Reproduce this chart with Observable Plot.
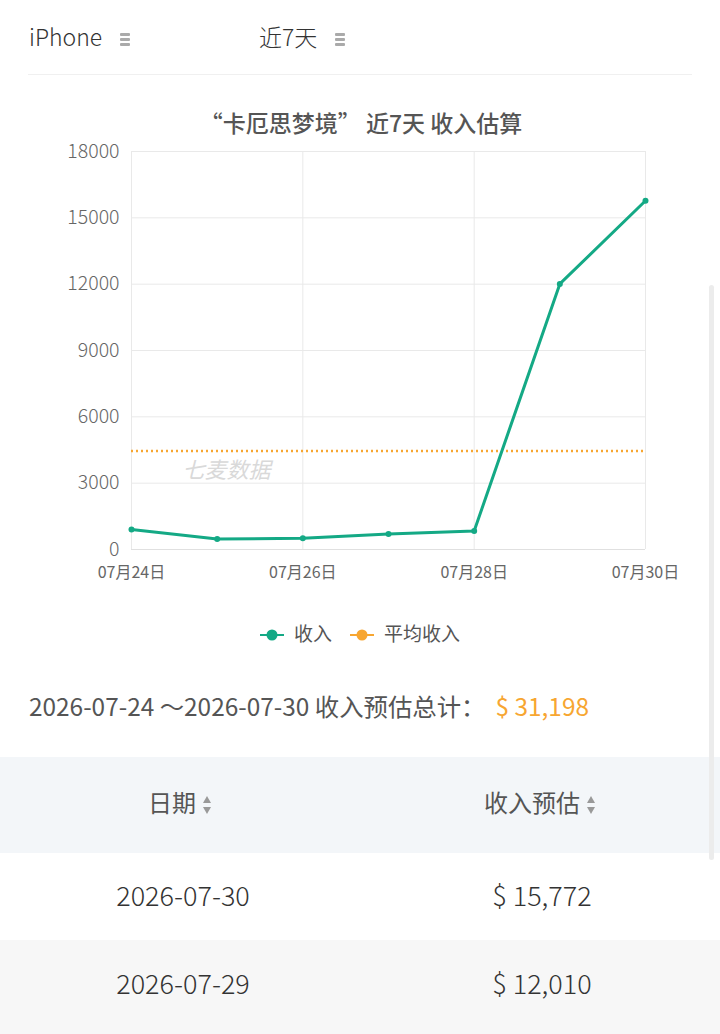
<!DOCTYPE html>
<html><head><meta charset="utf-8">
<script src="https://cdn.jsdelivr.net/npm/d3@7"></script>
<script src="https://cdn.jsdelivr.net/npm/@observablehq/plot@0.6"></script>
<style>
html,body{margin:0;padding:0;background:#fff;}
body{width:720px;height:1034px;position:relative;overflow:hidden;font-family:"Noto Sans CJK SC","Noto Sans",sans-serif;color:#333;}
.abs{position:absolute;}
.menu{display:inline-block;width:10px;vertical-align:middle;margin-left:18px;}
.menu i{display:block;height:3px;background:#aaa;border-radius:1px;margin:2px 0;}
#chart{position:absolute;left:0;top:140px;}
.th,.td{position:absolute;transform:translateX(-50%);white-space:nowrap;}
.sort{display:inline-block;vertical-align:middle;margin-left:6px;width:10px;}
</style></head><body>
<div class="abs" style="left:29px;top:19px;font-size:23px;color:#333;font-weight:300;">iPhone<span class="menu"><i></i><i></i><i></i></span></div>
<div class="abs" style="left:259px;top:19px;font-size:23px;color:#333;font-weight:300;">近7天<span class="menu"><i></i><i></i><i></i></span></div>
<div class="abs" style="left:28px;top:74px;width:664px;height:1px;background:#f0f0f0;"></div>
<div class="abs" id="title" style="left:0;width:722px;top:105px;text-align:center;font-size:23px;color:#555;font-weight:500;"></div>
<div id="chart"></div>
<div class="abs" id="legend" style="left:0;width:720px;top:619px;text-align:center;font-size:19px;color:#555;"></div>
<div class="abs" id="total" style="left:29px;top:688px;font-size:24.4px;color:#555;"></div>
<div class="abs" style="left:0;top:757px;width:720px;height:96px;background:#f3f6f9;"></div>
<div class="abs" style="left:0;top:940px;width:720px;height:94px;background:#f7f7f7;"></div>
<div class="abs" style="left:709px;top:285px;width:5px;height:575px;background:#ececec;border-radius:3px;"></div>
<div id="table"></div>
<script>
const dates = ["2026-07-24","2026-07-25","2026-07-26","2026-07-27","2026-07-28","2026-07-29","2026-07-30"];
const revenue = [900, 470, 510, 700, 836, 12010, 15772];
const yTicks = [0, 3000, 6000, 9000, 12000, 15000, 18000];
const xTickDates = ["2026-07-24","2026-07-26","2026-07-28","2026-07-30"];
const appName = "卡厄思梦境";
const seriesNames = ["收入", "平均收入"];
const colors = ["#14a985", "#f7a631"];

const total = d3.sum(revenue);
const avg = total / revenue.length;
const data = dates.map((d, i) => ({date: new Date(d), value: revenue[i]}));
const fmtTick = d3.utcFormat("%m月%d日");

document.getElementById("title").textContent = "“" + appName + "” 近7天 收入估算";

const chart = Plot.plot({
  width: 720, height: 450,
  marginLeft: 131, marginRight: 75, marginTop: 11, marginBottom: 41,
  style: {fontFamily: '"Noto Sans CJK SC","Noto Sans",sans-serif', background: "transparent", overflow: "visible"},
  x: {type: "utc", domain: [new Date(dates[0]), new Date(dates[dates.length-1])]},
  y: {domain: [0, 18000]},
  marks: [
    Plot.gridY(yTicks, {stroke: "#e9e9e9", strokeOpacity: 1}),
    Plot.gridX(xTickDates.map(d => new Date(d)), {stroke: "#e9e9e9", strokeOpacity: 1}),
    Plot.axisY(yTicks, {tickSize: 0, tickPadding: 12, fontSize: 19.5, fontWeight: 300, fill: "#666", label: null, tickFormat: d => String(d)}),
    Plot.axisX(xTickDates.map(d => new Date(d)), {tickSize: 0, tickPadding: 17, fontSize: 16, fill: "#666", label: null, tickFormat: fmtTick}),
    Plot.ruleY([0], {stroke: "#e0e0e0"}),
    Plot.text(["七麦数据"], {frameAnchor: "top-left", dx: 51, dy: 311, fontSize: 22, fontStyle: "italic", fill: "#d9d9d9", textAnchor: "start"}),
    Plot.ruleY([avg], {stroke: colors[1], strokeWidth: 2.5, strokeDasharray: "2 3"}),
    Plot.line(data, {x: "date", y: "value", stroke: colors[0], strokeWidth: 3}),
    Plot.dot(data, {x: "date", y: "value", fill: colors[0], r: 3})
  ]
});
document.getElementById("chart").appendChild(chart);

// legend
const leg = document.getElementById("legend");
seriesNames.forEach((name, i) => {
  const span = document.createElement("span");
  span.style.cssText = "display:inline-block;margin:0 9px;";
  span.innerHTML = `<svg width="24" height="14" style="vertical-align:-1px;margin-right:10px"><line x1="0" x2="24" y1="7" y2="7" stroke="${colors[i]}" stroke-width="2"/><circle cx="12" cy="7" r="5.5" fill="${colors[i]}"/></svg>${name}`;
  leg.appendChild(span);
});

const fmtMoney = d3.format(",");
document.getElementById("total").innerHTML =
  `${dates[0]} ～${dates[dates.length-1]} 收入预估总计：<span style="color:#f7a631;margin-left:10px">$ ${fmtMoney(total)}</span>`;

// table
const sortIcon = `<svg class="sort" width="10" height="20" viewBox="0 0 10 20"><path d="M5 1L9 8H1Z" fill="#999"/><path d="M5 19L9 12H1Z" fill="#999"/></svg>`;
const tbl = document.getElementById("table");
const headers = [["日期", 180], ["收入预估", 540]];
headers.forEach(([h, x]) => {
  const d = document.createElement("div");
  d.className = "th";
  d.style.cssText += `left:${x}px;top:784px;font-size:24px;color:#555;`;
  d.innerHTML = h + sortIcon;
  tbl.appendChild(d);
});
const rowsDesc = dates.map((d, i) => [d, revenue[i]]).reverse().slice(0, 2);
rowsDesc.forEach(([d, v], r) => {
  const y = 875 + r * 88;
  const a = document.createElement("div");
  a.className = "td"; a.style.cssText += `left:183px;top:${y}px;font-size:27px;color:#333;font-weight:300;`;
  a.textContent = d; tbl.appendChild(a);
  const b = document.createElement("div");
  b.className = "td"; b.style.cssText += `left:542px;top:${y}px;font-size:27px;color:#333;font-weight:300;`;
  b.textContent = "$ " + fmtMoney(v); tbl.appendChild(b);
});
</script>
</body></html>
